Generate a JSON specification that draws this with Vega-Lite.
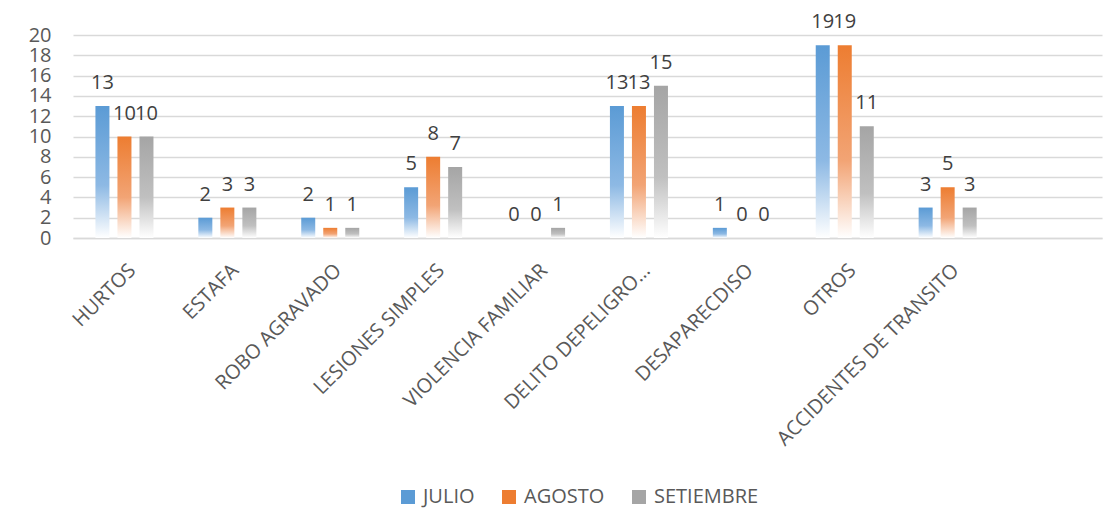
{
  "$schema": "https://vega.github.io/schema/vega-lite/v6.json",
  "width": 1029,
  "height": 203,
  "padding": {"left": 28, "top": 12, "right": 16, "bottom": 5},
  "background": "white",
  "config": {"font": "Open Sans", "view": {"stroke": null}},
  "data": {
    "values": [
      {"categoria": "HURTOS", "mes": "JULIO", "valor": 13},
      {"categoria": "HURTOS", "mes": "AGOSTO", "valor": 10},
      {"categoria": "HURTOS", "mes": "SETIEMBRE", "valor": 10},
      {"categoria": "ESTAFA", "mes": "JULIO", "valor": 2},
      {"categoria": "ESTAFA", "mes": "AGOSTO", "valor": 3},
      {"categoria": "ESTAFA", "mes": "SETIEMBRE", "valor": 3},
      {"categoria": "ROBO AGRAVADO", "mes": "JULIO", "valor": 2},
      {"categoria": "ROBO AGRAVADO", "mes": "AGOSTO", "valor": 1},
      {"categoria": "ROBO AGRAVADO", "mes": "SETIEMBRE", "valor": 1},
      {"categoria": "LESIONES SIMPLES", "mes": "JULIO", "valor": 5},
      {"categoria": "LESIONES SIMPLES", "mes": "AGOSTO", "valor": 8},
      {"categoria": "LESIONES SIMPLES", "mes": "SETIEMBRE", "valor": 7},
      {"categoria": "VIOLENCIA FAMILIAR", "mes": "JULIO", "valor": 0},
      {"categoria": "VIOLENCIA FAMILIAR", "mes": "AGOSTO", "valor": 0},
      {"categoria": "VIOLENCIA FAMILIAR", "mes": "SETIEMBRE", "valor": 1},
      {"categoria": "DELITO DEPELIGRO…", "mes": "JULIO", "valor": 13},
      {"categoria": "DELITO DEPELIGRO…", "mes": "AGOSTO", "valor": 13},
      {"categoria": "DELITO DEPELIGRO…", "mes": "SETIEMBRE", "valor": 15},
      {"categoria": "DESAPARECDISO", "mes": "JULIO", "valor": 1},
      {"categoria": "DESAPARECDISO", "mes": "AGOSTO", "valor": 0},
      {"categoria": "DESAPARECDISO", "mes": "SETIEMBRE", "valor": 0},
      {"categoria": "OTROS", "mes": "JULIO", "valor": 19},
      {"categoria": "OTROS", "mes": "AGOSTO", "valor": 19},
      {"categoria": "OTROS", "mes": "SETIEMBRE", "valor": 11},
      {"categoria": "ACCIDENTES DE TRANSITO", "mes": "JULIO", "valor": 3},
      {"categoria": "ACCIDENTES DE TRANSITO", "mes": "AGOSTO", "valor": 5},
      {"categoria": "ACCIDENTES DE TRANSITO", "mes": "SETIEMBRE", "valor": 3}
    ]
  },
  "encoding": {
    "x": {
      "field": "categoria",
      "type": "nominal",
      "sort": null,
      "title": null,
      "scale": {
        "domain": ["HURTOS", "ESTAFA", "ROBO AGRAVADO", "LESIONES SIMPLES", "VIOLENCIA FAMILIAR", "DELITO DEPELIGRO…", "DESAPARECDISO", "OTROS", "ACCIDENTES DE TRANSITO", " "],
        "paddingInner": 0.436,
        "paddingOuter": 0.218
      },
      "axis": {
        "labelAngle": -45,
        "labelFontSize": 20,
        "labelColor": "#595959",
        "labelPadding": 22,
        "labelOffset": 1,
        "labelLimit": 400,
        "labelOverlap": false,
        "ticks": false,
        "domainColor": "#d9d9d9",
        "domainWidth": 1.5
      }
    },
    "xOffset": {
      "field": "mes",
      "type": "nominal",
      "scale": {"domain": ["JULIO", "AGOSTO", "SETIEMBRE"], "paddingInner": 0.364}
    },
    "y": {
      "field": "valor",
      "type": "quantitative",
      "title": null,
      "scale": {"domain": [0, 20]},
      "axis": {
        "values": [0, 2, 4, 6, 8, 10, 12, 14, 16, 18, 20],
        "labelFontSize": 20,
        "labelColor": "#595959",
        "labelPadding": 22,
        "labelOverlap": false,
        "ticks": false,
        "domain": false,
        "gridColor": "#d9d9d9",
        "gridWidth": 1.5
      }
    }
  },
  "layer": [
    {
      "mark": {"type": "bar", "opacity": 0},
      "encoding": {
        "fill": {
          "field": "mes",
          "type": "nominal",
          "scale": {
            "domain": ["JULIO", "AGOSTO", "SETIEMBRE"],
            "range": ["#5B9BD5", "#ED7D31", "#A5A5A5"]
          },
          "legend": {
            "title": null,
            "orient": "none",
            "legendX": 325,
            "legendY": 452,
            "padding": 0,
            "direction": "horizontal",
            "labelFontSize": 20,
            "labelColor": "#595959",
            "labelOffset": 5,
            "symbolType": "square",
            "symbolSize": 196,
            "symbolOpacity": 1,
            "symbolStrokeWidth": 0,
            "columnPadding": 24
          }
        }
      }
    },
    {
      "transform": [{"filter": "datum.mes === 'JULIO'"}],
      "mark": {"type": "bar", "color": {"gradient": "linear", "x1": 0, "y1": 0, "x2": 0, "y2": 1, "stops": [{"offset": 0, "color": "#5B9BD5"}, {"offset": 0.6, "color": "#8DB9E4"}, {"offset": 1, "color": "#ffffff"}]}},
      "encoding": {}
    },
    {
      "transform": [{"filter": "datum.mes === 'AGOSTO'"}],
      "mark": {"type": "bar", "color": {"gradient": "linear", "x1": 0, "y1": 0, "x2": 0, "y2": 1, "stops": [{"offset": 0, "color": "#ED7D31"}, {"offset": 0.6, "color": "#F2A475"}, {"offset": 1, "color": "#ffffff"}]}},
      "encoding": {}
    },
    {
      "transform": [{"filter": "datum.mes === 'SETIEMBRE'"}],
      "mark": {"type": "bar", "color": {"gradient": "linear", "x1": 0, "y1": 0, "x2": 0, "y2": 1, "stops": [{"offset": 0, "color": "#A5A5A5"}, {"offset": 0.6, "color": "#C0C0C0"}, {"offset": 1, "color": "#ffffff"}]}},
      "encoding": {}
    },
    {
      "mark": {"type": "text", "baseline": "alphabetic", "dy": -17, "fontSize": 20, "color": "#404040"},
      "encoding": {"text": {"field": "valor", "type": "quantitative"}}
    }
  ]
}
